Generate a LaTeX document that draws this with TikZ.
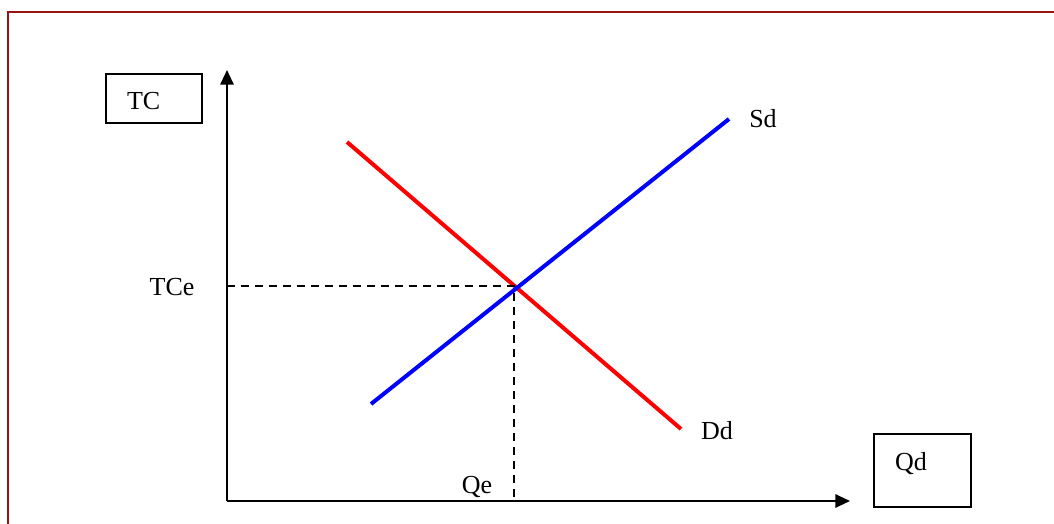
\documentclass[tikz,border=0pt]{standalone}
\usepackage{fontspec}
\setmainfont{Liberation Serif}
\usetikzlibrary{arrows.meta}
\definecolor{framered}{RGB}{150,20,20}
\begin{document}
\begin{tikzpicture}[x=0.75pt, y=-0.75pt, >={Triangle[length=11pt,width=10pt]},
	every node/.style={font=\fontsize{19.5}{23}\selectfont},
	axis/.style={line width=1.5pt},
	curve/.style={line width=3pt},
	guide/.style={dashed, line width=1.2pt, dash pattern=on 6pt off 4.5pt},
	labelbox/.style={draw, line width=1.2pt, align=left, inner xsep=15.75pt}]
	\useasboundingbox (0,0) rectangle (1054,524);
	% 1. 外框 (只有上边和左边)
	\draw[framered, line width=1.8pt] (8,524) -- (8,12) -- (1054,12);
	
	% 2. 坐标轴
	\coordinate (O) at (227,501);
	\coordinate (ytip) at (227,70);
	\coordinate (xtip) at (850,501);
	\draw[axis, ->] (O) -- (ytip);
	\draw[axis, ->] (O) -- (xtip);
	\node[labelbox, text width=40.5pt, inner ysep=9.75pt, text height=17.25pt, text depth=0pt] (tc) at (154,98.5) {TC};
	\node[labelbox, text width=41.25pt, inner ysep=13.5pt, text height=13.5pt, text depth=14.25pt] (qd) at (922.5,470.5) {Qd};
	
	% 3. 供需曲线
	\coordinate (s1) at (371,404);
	\coordinate (s2) at (729,119);
	\coordinate (d1) at (347,142);
	\coordinate (d2) at (681,429);
	\draw[curve, red] (d1) -- (d2);
	\draw[curve, blue] (s1) -- (s2);
	\node[anchor=base] (sd) at (763,128) {Sd};
	\node[anchor=base] (dd) at (717,439) {Dd};
	
	% 4. 均衡点与虚线
	\coordinate (E) at (514,286);
	\draw[guide] (O |- E) -- (E) -- (E |- O);
	\node[anchor=base] (tce) at (172,296) {TCe};
	\node[anchor=base] (qe) at (477,493) {Qe};
\end{tikzpicture}
\end{document}
